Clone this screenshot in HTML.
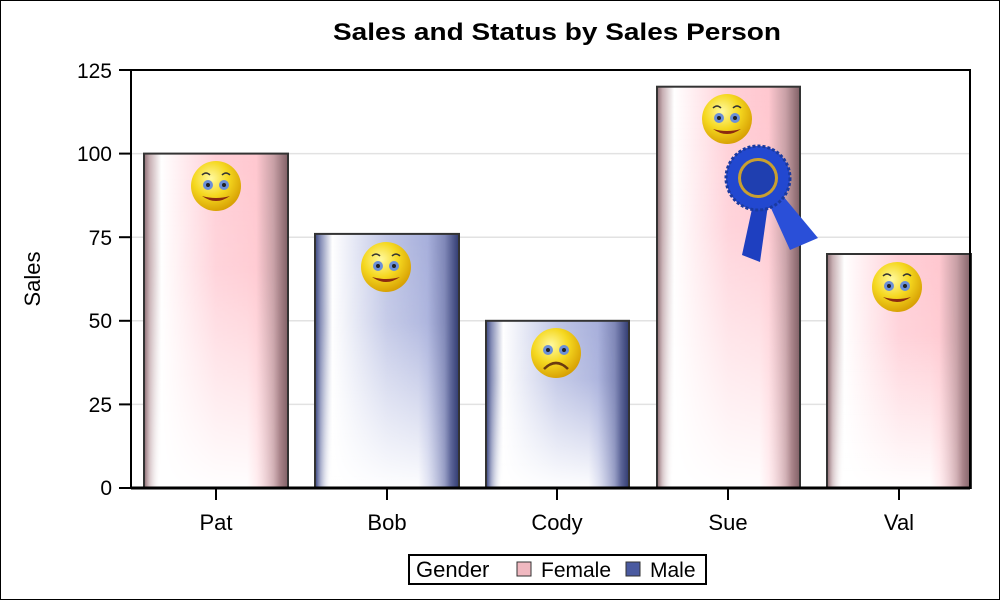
<!DOCTYPE html>
<html><head><style>body{margin:0;background:#fff}svg{display:block}text{font-family:"Liberation Sans",sans-serif}</style></head><body>
<svg width="1000" height="600" viewBox="0 0 1000 600">
<defs>
<linearGradient id="hf" x1="0" x2="1" y1="0" y2="0">
<stop offset="0" stop-color="#8e6e74"/><stop offset="0.04" stop-color="#c8b0b4"/><stop offset="0.12" stop-color="#fff"/><stop offset="0.5" stop-color="#ffd0d8"/><stop offset="0.78" stop-color="#ffc8d0"/><stop offset="0.9" stop-color="#c8a0a6"/><stop offset="1" stop-color="#806066"/></linearGradient>
<linearGradient id="hm" x1="0" x2="1" y1="0" y2="0">
<stop offset="0" stop-color="#3a4680"/><stop offset="0.04" stop-color="#8890b8"/><stop offset="0.12" stop-color="#fff"/><stop offset="0.5" stop-color="#c0c6e6"/><stop offset="0.78" stop-color="#a8b0dc"/><stop offset="0.9" stop-color="#8088b8"/><stop offset="1" stop-color="#303a70"/></linearGradient>
<linearGradient id="vw" x1="0" x2="0" y1="0" y2="1">
<stop offset="0" stop-color="#fff" stop-opacity="0"/><stop offset="0.35" stop-color="#fff" stop-opacity="0.1"/><stop offset="1" stop-color="#fff" stop-opacity="0.97"/></linearGradient>
<linearGradient id="mg" x1="0" x2="1" y1="0" y2="0">
<stop offset="0" stop-color="#000"/><stop offset="0.1" stop-color="#fff"/><stop offset="0.72" stop-color="#fff"/><stop offset="0.95" stop-color="#000"/></linearGradient>
<mask id="mk" maskContentUnits="objectBoundingBox"><rect width="1" height="1" fill="url(#mg)"/></mask>
<radialGradient id="sm" cx="0.4" cy="0.35" r="0.7"><stop offset="0" stop-color="#fff9a0"/><stop offset="0.5" stop-color="#f5d820"/><stop offset="1" stop-color="#d49a00"/></radialGradient>
<g id="happy"><circle r="25" fill="url(#sm)"/><ellipse cx="-8" cy="-1" rx="5" ry="5" fill="#6b8fd8"/><ellipse cx="8" cy="-1" rx="5" ry="5" fill="#6b8fd8"/><circle cx="-8" cy="-1" r="2" fill="#222"/><circle cx="8" cy="-1" r="2" fill="#222"/><path d="M-14,-11 q4,-4 8,0 M6,-11 q4,-4 8,0" stroke="#333" stroke-width="1.5" fill="none"/><path d="M-14,10 q14,10 28,0 q-14,4 -28,0z" fill="#8b2a10"/></g>
<g id="sad"><circle r="25" fill="url(#sm)"/><ellipse cx="-8" cy="-3" rx="5" ry="5" fill="#6b8fd8"/><ellipse cx="8" cy="-3" rx="5" ry="5" fill="#6b8fd8"/><circle cx="-8" cy="-3" r="2" fill="#222"/><circle cx="8" cy="-3" r="2" fill="#222"/><path d="M-12,16 q12,-12 24,0" stroke="#6a3a10" stroke-width="2.5" fill="none"/></g>
</defs>
<rect x="0.5" y="0.5" width="999" height="599" fill="#fff" stroke="#000"/>
<text x="557" y="40" font-size="24" font-weight="bold" text-anchor="middle" textLength="448" lengthAdjust="spacingAndGlyphs">Sales and Status by Sales Person</text>
<g stroke="#e2e2e2" stroke-width="1.5"><line x1="131" x2="970" y1="153.6" y2="153.6"/><line x1="131" x2="970" y1="237.2" y2="237.2"/><line x1="131" x2="970" y1="320.8" y2="320.8"/><line x1="131" x2="970" y1="404.4" y2="404.4"/></g>
<g stroke="#333" stroke-width="2">
<rect x="144" y="153.6" width="144" height="334.4" fill="url(#hf)"/>
<rect x="315" y="233.9" width="144" height="254.1" fill="url(#hm)"/>
<rect x="486" y="320.8" width="143" height="167.2" fill="url(#hm)"/>
<rect x="657" y="86.7" width="143" height="401.3" fill="url(#hf)"/>
<rect x="827" y="254" width="144" height="234" fill="url(#hf)"/></g>
<g mask="url(#mk)"><rect x="145" y="154" width="142" height="333" fill="url(#vw)"/></g>
<g mask="url(#mk)"><rect x="316" y="234" width="142" height="253" fill="url(#vw)"/></g>
<g mask="url(#mk)"><rect x="487" y="321" width="141" height="166" fill="url(#vw)"/></g>
<g mask="url(#mk)"><rect x="658" y="87" width="141" height="400" fill="url(#vw)"/></g>
<g mask="url(#mk)"><rect x="828" y="254" width="142" height="233" fill="url(#vw)"/></g>
<use href="#happy" x="216" y="186"/><use href="#happy" x="386" y="267"/><use href="#sad" x="556" y="353"/><use href="#happy" x="727" y="119"/><use href="#happy" x="897" y="287"/>
<g><path d="M755,195 L742,255 L760,262 L768,205z" fill="#1e3fc0"/><path d="M765,195 L790,250 L818,238 L778,190z" fill="#2a4fd8"/><circle cx="758" cy="178" r="32" fill="#2248d0" stroke="#1a3aa0" stroke-width="3" stroke-dasharray="3 2"/><circle cx="758" cy="178" r="20" fill="#c9a030"/><circle cx="758" cy="178" r="17" fill="#1f3fb0"/></g>
<rect x="131" y="70" width="839" height="418" fill="none" stroke="#000" stroke-width="2"/>
<line x1="131" x2="970" y1="488" y2="488" stroke="#000" stroke-width="3"/>
<g stroke="#000" stroke-width="2"><line x1="119" x2="131" y1="70" y2="70"/><line x1="119" x2="131" y1="153.6" y2="153.6"/><line x1="119" x2="131" y1="237.2" y2="237.2"/><line x1="119" x2="131" y1="320.8" y2="320.8"/><line x1="119" x2="131" y1="404.4" y2="404.4"/><line x1="119" x2="131" y1="488" y2="488"/>
<line x1="216" x2="216" y1="488" y2="500"/><line x1="387" x2="387" y1="488" y2="500"/><line x1="557" x2="557" y1="488" y2="500"/><line x1="728" x2="728" y1="488" y2="500"/><line x1="899" x2="899" y1="488" y2="500"/></g>
<g font-size="21" text-anchor="end"><text x="112" y="78">125</text><text x="112" y="161">100</text><text x="112" y="245">75</text><text x="112" y="328">50</text><text x="112" y="412">25</text><text x="112" y="495">0</text></g>
<text transform="translate(40,279) rotate(-90)" font-size="22" text-anchor="middle">Sales</text>
<g font-size="22" text-anchor="middle"><text x="216" y="530">Pat</text><text x="387" y="530">Bob</text><text x="557" y="530">Cody</text><text x="728" y="530">Sue</text><text x="899" y="530">Val</text></g>
<rect x="409" y="555" width="297" height="29" fill="#fff" stroke="#000" stroke-width="2"/>
<text x="416" y="577" font-size="22">Gender</text>
<rect x="517" y="562" width="14" height="14" fill="#f0b8c0" stroke="#333"/><text x="541" y="577" font-size="21">Female</text>
<rect x="626" y="562" width="14" height="14" fill="#4a5aa0" stroke="#333"/><text x="650" y="577" font-size="21">Male</text>
</svg></body></html>
